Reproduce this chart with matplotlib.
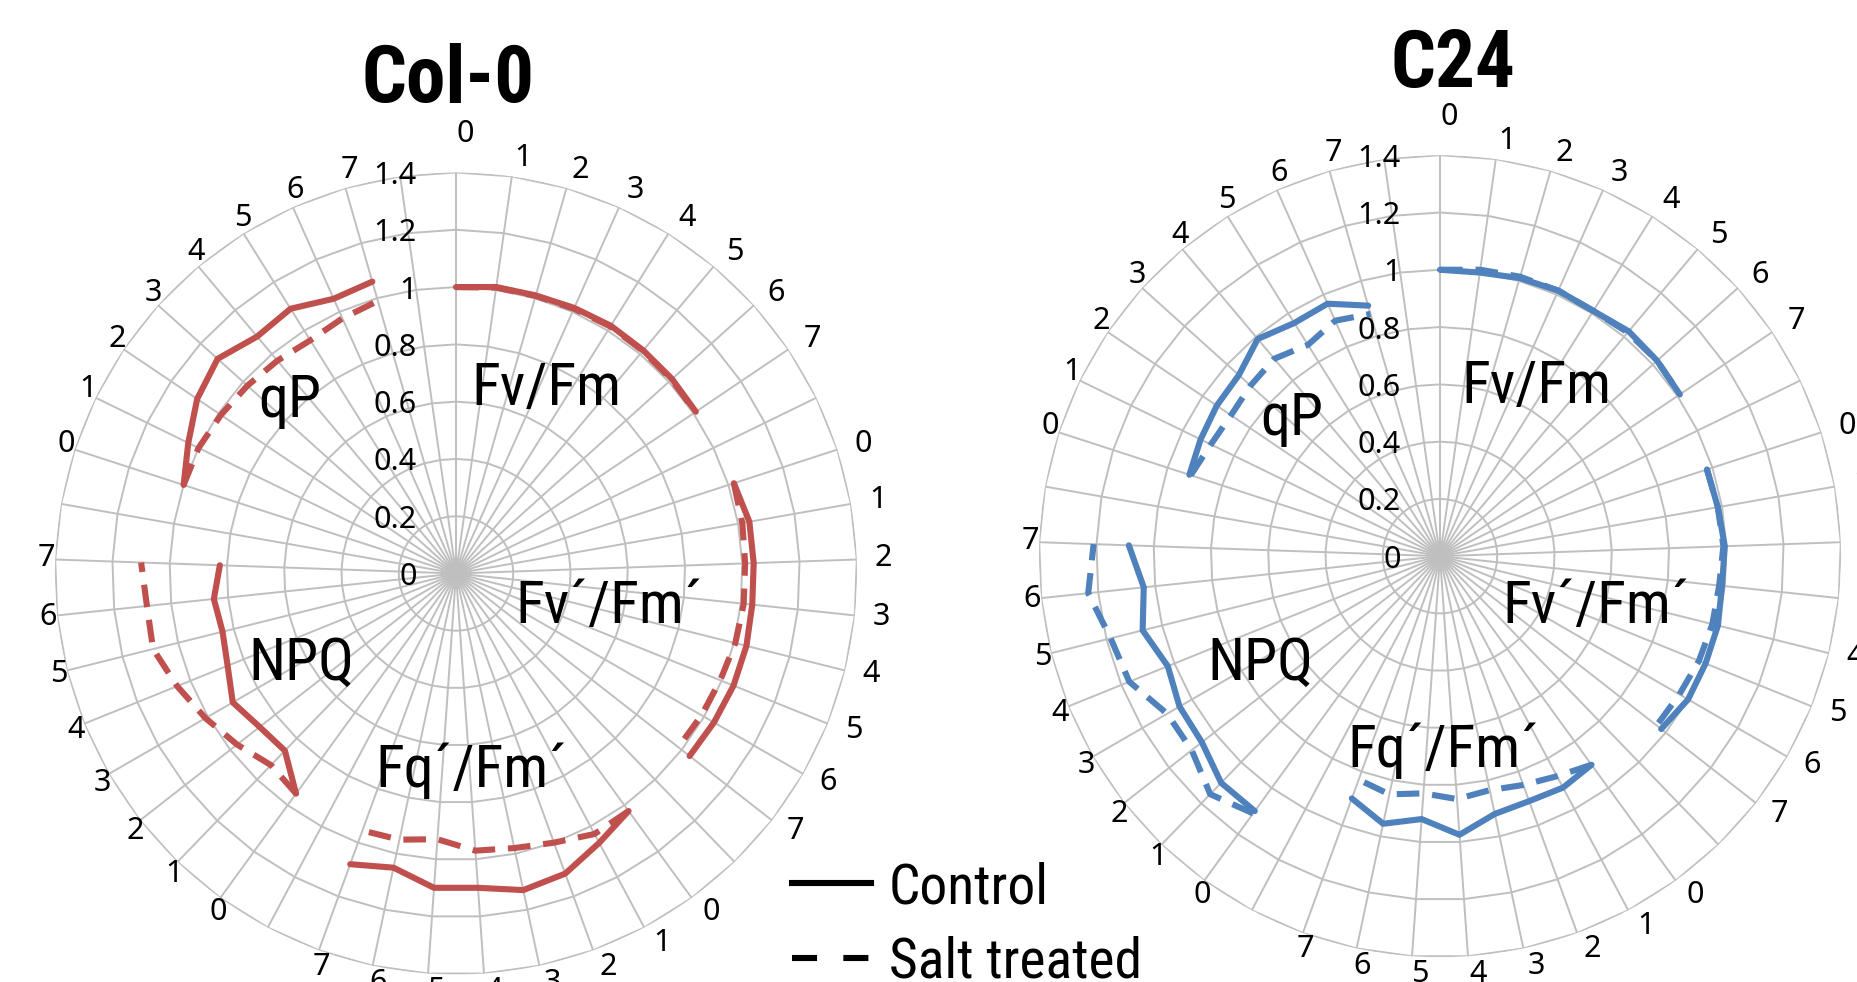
import os
import numpy as np
import matplotlib.pyplot as plt
from matplotlib import font_manager as fm
from matplotlib.lines import Line2D

W, H = 1857, 982

params = ["Fv/Fm", "Fv´/Fm´", "Fq´/Fm´", "NPQ", "qP"]
days = ["0", "1", "2", "3", "4", "5", "6", "7"]
r_ticks = [0, 0.2, 0.4, 0.6, 0.8, 1, 1.2, 1.4]
r_labels = ["0", "0.2", "0.4", "0.6", "0.8", "1", "1.2", "1.4"]

# values, one row per parameter (same order as params)
col0_control = [
    [1.00, 1.01, 1.01, 1.015, 1.02, 1.017, 1.015, 1.01],
    [1.02, 1.04, 1.04, 1.04, 1.045, 1.045, 1.04, 1.035],
    [1.025, 1.065, 1.115, 1.13, 1.10, 1.10, 1.05, 1.08],
    [0.95, 0.86, 0.87, 0.90, 0.86, 0.84, 0.85, 0.825],
    [1.00, 1.04, 1.09, 1.12, 1.08, 1.09, 1.05, 1.06],
]
col0_salt = [
    [1.00, 1.008, 1.008, 1.012, 1.017, 1.015, 1.012, 1.008],
    [1.02, 1.015, 1.01, 1.01, 1.005, 0.995, 0.99, 0.985],
    [1.025, 1.03, 1.00, 0.98, 0.97, 0.93, 0.95, 0.955],
    [0.95, 0.93, 0.97, 1.01, 1.05, 1.09, 1.085, 1.10],
    [1.00, 1.00, 0.99, 0.98, 0.97, 0.96, 0.975, 0.99],
]
c24_control = [
    [1.00, 1.00, 1.01, 1.015, 1.01, 1.025, 1.02, 1.01],
    [0.98, 0.985, 0.995, 0.99, 1.00, 1.00, 1.00, 0.98],
    [0.90, 0.915, 0.91, 0.92, 0.975, 0.92, 0.955, 0.90],
    [1.10, 1.10, 1.055, 1.05, 1.025, 1.07, 1.04, 1.087],
    [0.92, 0.93, 0.94, 0.945, 0.99, 0.96, 0.965, 0.91],
]
c24_salt = [
    [1.00, 1.01, 1.015, 1.015, 1.01, 1.02, 1.02, 1.01],
    [0.98, 0.985, 0.99, 0.98, 0.98, 0.975, 0.965, 0.96],
    [0.90, 0.87, 0.85, 0.835, 0.85, 0.83, 0.85, 0.83],
    [1.11, 1.155, 1.10, 1.10, 1.17, 1.185, 1.235, 1.21],
    [0.915, 0.89, 0.88, 0.89, 0.90, 0.87, 0.90, 0.88],
]

red = "#C0504D"
blue = "#4F81BD"
grid_c = "#BFBFBF"
PT = 0.72  # points per pixel at dpi 100


def _weight(f):
    w = f.weight
    if isinstance(w, str):
        w = fm.weight_dict.get(w, 400)
    return w


def find_font(bold, condensed):
    # look for a narrow face among the installed fonts, else a plain one
    prefs = ["liberation sans narrow", "roboto condensed", "noto sans", "open sans",
             "dejavu sans", "lato", "inter", "liberation sans"]
    target = 700 if bold else 400
    best, best_key = None, None
    for f in fm.fontManager.ttflist:
        base = os.path.basename(f.fname).lower()
        name = (f.name + " " + base).lower()
        if f.style != "normal" or "italic" in base or "mono" in name or "serif" in name \
                or "cjk" in name or "display" in name:
            continue
        is_cond = ("narrow" in name or "condensed" in name or "cond" in base
                   or f.stretch != "normal")
        if condensed != is_cond:
            continue
        rank = next((i for i, p in enumerate(prefs) if p in name), None)
        if rank is None:
            continue
        semi = 1 if "semi" in name else 0
        key = (rank, semi, abs(_weight(f) - target))
        if best_key is None or key < best_key:
            best, best_key = f, key
    if best is None:
        return fm.FontProperties(family="DejaVu Sans",
                                 weight="bold" if bold else "normal")
    return fm.FontProperties(fname=best.fname)


NARROW = find_font(False, True)
NARROW_B = find_font(True, True)
DIGITS = find_font(False, False)

n_spokes = len(params) * (len(days) + 1)   # one empty spoke after each group
theta_all = np.deg2rad(np.arange(n_spokes) * 360 / n_spokes)


def px(x, y):
    return x / W, 1 - y / H


def fp(prop, size):
    p = prop.copy()
    p.set_size(size)
    return p


fig = plt.figure(figsize=(W / 100, H / 100), dpi=100)


def radar(cx, cy, R, control, salt, color, title, title_pos, label_pos):
    ax = fig.add_axes([(cx - R) / W, (H - cy - R) / H, 2 * R / W, 2 * R / H],
                      projection="polar")
    ax.set_theta_zero_location("N")
    ax.set_theta_direction(-1)
    ax.set_ylim(0, 1.4)
    ax.set_xticks([])
    ax.set_yticks([])
    ax.grid(False)
    ax.spines["polar"].set_visible(False)
    ax.patch.set_alpha(0)

    ring = np.append(theta_all, theta_all[0])
    for r in r_ticks[1:]:
        ax.plot(ring, np.full(ring.size, r), color=grid_c, lw=1.4, zorder=1)
    for t in theta_all:
        ax.plot([t, t], [0, 1.4], color=grid_c, lw=1.4, zorder=1)

    for r, lab in zip(r_ticks, r_labels):
        ax.annotate(lab, xy=(0, r), xytext=(-39 * PT, 0), textcoords="offset points",
                    ha="right", va="center_baseline", fontproperties=fp(DIGITS, 22))

    for g in range(len(params)):
        for i, d in enumerate(days):
            t = theta_all[g * 9 + i]
            extra = 20 if (g == 0 and i == 0) else 0
            dx = (18 * np.sin(t) + 9) * PT
            dy = (18 * np.cos(t) + 4 + extra) * PT
            ax.annotate(d, xy=(t, 1.4), xytext=(dx, dy), textcoords="offset points",
                        ha="center", va="center_baseline", fontproperties=fp(DIGITS, 22),
                        annotation_clip=False)

    for g in range(len(params)):
        th = theta_all[g * 9: g * 9 + len(days)]
        ax.plot(th, control[g], color=color, lw=4.4, solid_capstyle="round",
                solid_joinstyle="round", zorder=3)
        ax.plot(th, salt[g], color=color, lw=4.4, linestyle=(0, (3.7, 2.1)),
                dash_capstyle="butt", dash_joinstyle="round", zorder=4)

    fig.text(*px(*title_pos), title, ha="center", va="baseline",
             fontproperties=fp(NARROW_B, 57))
    for name, pos in zip(params, label_pos):
        fig.text(*px(*pos), name, ha="center", va="baseline",
                 fontproperties=fp(NARROW, 43))
    return ax


radar(456, 573.5, 401, col0_control, col0_salt, red, "Col-0", (448, 102),
      [(546, 405), (609, 623), (471, 787), (301, 680), (290, 417)])
radar(1440, 556.2, 401, c24_control, c24_salt, blue, "C24", (1453, 87),
      [(1536, 403), (1596, 623), (1443, 767), (1260, 680), (1292, 435)])

# legend
x0, x1 = 792 / W, 871 / W
fig.add_artist(Line2D([x0, x1], [1 - 883 / H] * 2, color="black", lw=4.4,
                      transform=fig.transFigure))
fig.add_artist(Line2D([x0, x1], [1 - 958 / H] * 2, color="black", lw=4.4,
                      linestyle=(0, (4.1, 4.3)), dash_capstyle="butt",
                      transform=fig.transFigure))
fig.text(*px(889, 903), "Control", ha="left", va="baseline", fontproperties=fp(NARROW, 40))
fig.text(*px(889, 978), "Salt treated", ha="left", va="baseline",
         fontproperties=fp(NARROW, 40))

fig.savefig("out.png", dpi=100, facecolor="white")
